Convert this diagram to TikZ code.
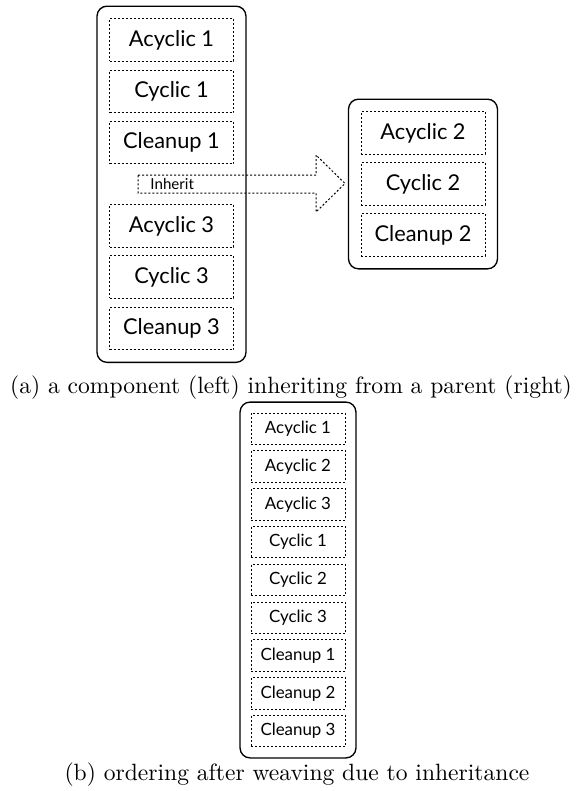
\documentclass[tikz,border=0pt]{standalone}
\usepackage{fontspec}
\newfontfamily\phasefont{Lato}
\usetikzlibrary{positioning, fit}

\begin{document}
\begin{tikzpicture}[x=0.45pt, y=-0.45pt,
    phase/.style={draw, line width=0.45pt, dash pattern=on 0.9pt off 0.9pt,
        inner sep=0pt, font=\phasefont\fontsize{9.8}{11}\selectfont},
    big/.style={phase, minimum width=55.8pt, minimum height=19.2pt},
    small/.style={phase, minimum width=42.3pt, minimum height=14.2pt,
        font=\phasefont\fontsize{7.6}{8.5}\selectfont},
    group/.style={draw, line width=0.6pt, rounded corners=4.5pt, inner sep=5.4pt},
    caption/.style={anchor=base, font=\fontsize{10.6}{12}\selectfont}]
    \useasboundingbox (0,0) rectangle (586,791);

    % component (left)
    \node[big] (a1) at (171.5,40) {Acyclic 1};
    \node[big] (c1) at (171.5,91.5) {Cyclic 1};
    \node[big] (l1) at (171.5,142.5) {Cleanup 1};
    \node[big] (a3) at (171.5,226) {Acyclic 3};
    \node[big] (c3) at (171.5,277) {Cyclic 3};
    \node[big] (l3) at (171.5,328.5) {Cleanup 3};
    \node[group, fit=(a1)(l3)] (comp) {};

    % parent (right)
    \node[big] (a2) at (423,133) {Acyclic 2};
    \node[big] (c2) at (423,184) {Cyclic 2};
    \node[big] (l2) at (423,235) {Cleanup 2};
    \node[group, fit=(a2)(l2)] (parent) {};

    % inherit arrow
    \draw[line width=0.45pt, dash pattern=on 0.9pt off 0.9pt]
    (138,175) -- (316,175) -- (316,155) -- (345,183.5) -- (316,212)
    -- (316,193) -- (138,193) -- cycle;
    \node[anchor=west, inner sep=0pt, font=\phasefont\fontsize{6.8}{8}\selectfont]
    (inh) at (150,183.5) {Inherit};

    \node[caption] (capa) at (291,393)
    {(a) a component (left) inheriting from a parent (right)};

    % ordering after weaving
    \node[small] (w1) at (298,428.8) {Acyclic 1};
    \node[small] (w2) at (298,466.6) {Acyclic 2};
    \node[small] (w3) at (298,504.4) {Acyclic 3};
    \node[small] (w4) at (298,542.2) {Cyclic 1};
    \node[small] (w5) at (298,580) {Cyclic 2};
    \node[small] (w6) at (298,617.8) {Cyclic 3};
    \node[small] (w7) at (298,655.6) {Cleanup 1};
    \node[small] (w8) at (298,693.4) {Cleanup 2};
    \node[small] (w9) at (298,731.2) {Cleanup 3};
    \node[group, inner sep=4.7pt, fit=(w1)(w9)] (woven) {};

    \node[caption] (capb) at (297,780)
    {(b) ordering after weaving due to inheritance};
\end{tikzpicture}
\end{document}
